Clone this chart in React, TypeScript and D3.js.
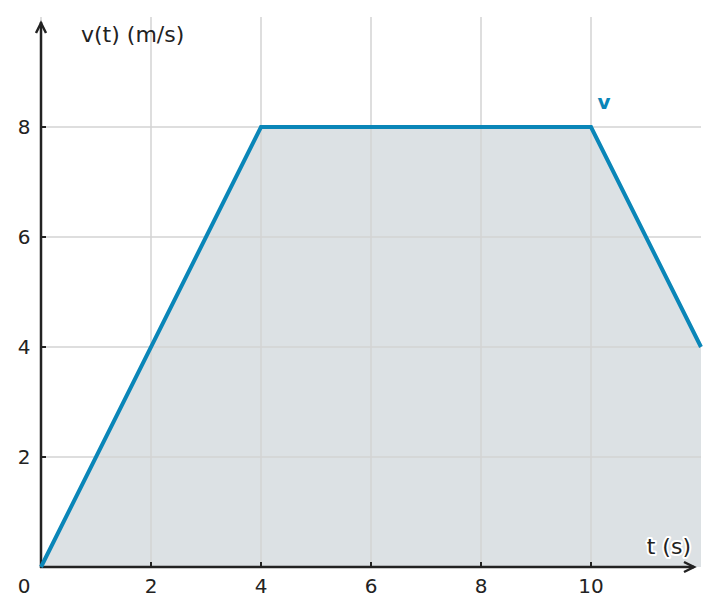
import React from "react";
import * as d3 from "d3";

const times = [0, 4, 10, 12];
const velocities = [0, 8, 8, 4];
const xTicks = [2, 4, 6, 8, 10];
const yTicks = [2, 4, 6, 8];
const xGrid = [0, 2, 4, 6, 8, 10];
const seriesLabel = "v";
const yTitle = "v(t) (m/s)";
const xTitle = "t (s)";

const W = 718;
const H = 615;
const FONT = "'DejaVu Sans', sans-serif";

export default function App() {
  const x = d3.scaleLinear().domain([0, 12]).range([41, 701]);
  const y = d3.scaleLinear().domain([0, 10]).range([567, 17]);
  const pts = times.map((t, i) => [t, velocities[i]] as [number, number]);
  const line = d3.line<[number, number]>().x((d) => x(d[0])).y((d) => y(d[1]));
  const area = d3
    .area<[number, number]>()
    .x((d) => x(d[0]))
    .y0(y(0))
    .y1((d) => y(d[1]));
  const axisColor = "#222";
  const blue = "#0a86b8";
  return (
    <svg width={W} height={H} style={{ position: "absolute", left: 0, top: 0, background: "#fff" }} fontFamily={FONT}>
      <path d={area(pts) || ""} fill="#dce1e4" />
      {xGrid.map((v) => (
        <line key={"xg" + v} x1={x(v)} x2={x(v)} y1={y(10)} y2={y(0)} stroke="#d3d3d3" strokeWidth={1.5} />
      ))}
      {yTicks.map((v) => (
        <line key={"yg" + v} x1={x(0)} x2={x(12)} y1={y(v)} y2={y(v)} stroke="#d3d3d3" strokeWidth={1.5} />
      ))}
      <line x1={x(0)} x2={x(0)} y1={y(0) + 1} y2={22} stroke={axisColor} strokeWidth={2.5} />
      <polyline points={`${x(0) - 5},${33} ${x(0)},${23} ${x(0) + 5},${33}`} fill="none" stroke={axisColor} strokeWidth={2.5} />
      <line x1={x(0) - 1} x2={694} y1={y(0)} y2={y(0)} stroke={axisColor} strokeWidth={2.5} />
      <polyline points={`${684},${y(0) - 5} ${694},${y(0)} ${684},${y(0) + 5}`} fill="none" stroke={axisColor} strokeWidth={2.5} />
      {xTicks.map((v) => (
        <line key={"xt" + v} x1={x(v)} x2={x(v)} y1={y(0)} y2={y(0) - 5} stroke={axisColor} strokeWidth={2} />
      ))}
      {yTicks.map((v) => (
        <line key={"yt" + v} x1={x(0)} x2={x(0) + 5} y1={y(v)} y2={y(v)} stroke={axisColor} strokeWidth={2} />
      ))}
      <path d={line(pts) || ""} fill="none" stroke={blue} strokeWidth={4} strokeLinejoin="miter" />
      {xTicks.map((v) => (
        <text key={"xl" + v} x={x(v)} y={592.5} textAnchor="middle" fontSize={20} fill="#222">
          {v}
        </text>
      ))}
      {yTicks.map((v) => (
        <text key={"yl" + v} x={24} y={y(v) + 7} textAnchor="middle" fontSize={20} fill="#222">
          {v}
        </text>
      ))}
      <text x={24} y={592.5} textAnchor="middle" fontSize={20} fill="#222">0</text>
      <text x={81} y={42} fontSize={22} fill="#222">{yTitle}</text>
      <text x={691} y={554} textAnchor="end" fontSize={22} fill="#222" stroke="#fff" strokeWidth={4} paintOrder="stroke" strokeLinejoin="round">
        {xTitle}
      </text>
      <text x={x(10) + 13} y={109} textAnchor="middle" fontSize={20} fontWeight="bold" fill={blue}>
        {seriesLabel}
      </text>
    </svg>
  );
}
